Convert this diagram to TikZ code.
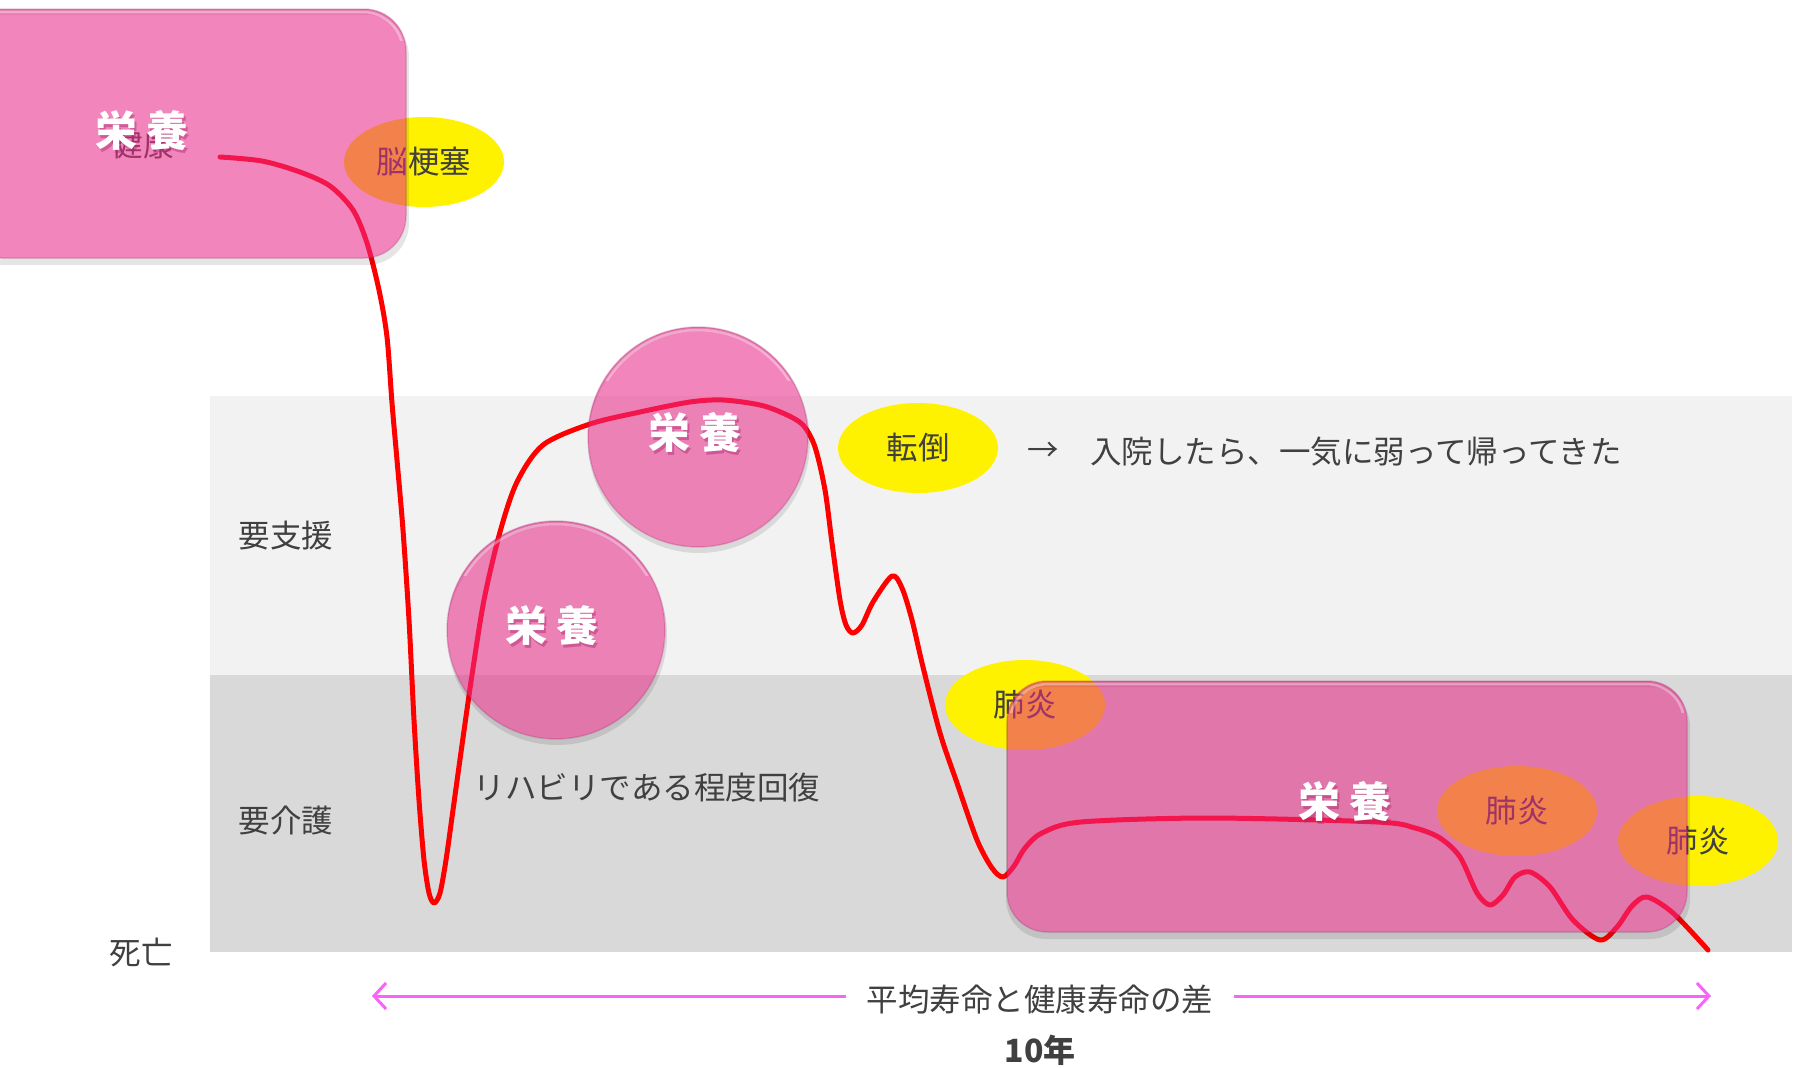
\documentclass[tikz,border=0pt]{standalone}
\usepackage{fontspec}
\setmainfont{Noto Sans CJK JP}
\usetikzlibrary{shapes.geometric,arrows.meta}
\definecolor{pk}{RGB}{233,41,136}
\definecolor{pkedge}{RGB}{170,40,110}
\definecolor{txt}{RGB}{64,64,64}
\definecolor{bandA}{RGB}{242,242,242}
\definecolor{bandB}{RGB}{217,217,217}
\definecolor{mag}{RGB}{248,100,248}
\newcommand{\mysz}{\fontsize{31.5}{36}\selectfont}
\newcommand{\eiyosz}{\fontsize{42}{48}\selectfont\bfseries}
\begin{document}
\begin{tikzpicture}[x=1pt,y=-1pt,
  lbl/.style={text=txt,font=\mysz,inner sep=0pt},
  yel/.style={ellipse,fill=yellow,minimum width=160pt,minimum height=90pt,inner sep=0pt,text=txt,font=\mysz},
  pinkfill/.style={fill=pk,fill opacity=0.56,draw=pkedge,draw opacity=0.25,line width=1.5pt},
  pshade/.style={fill=black,even odd rule},
  eiyo/.style={text=white,font=\eiyosz,inner sep=0pt},
  eiyoback/.style={text=pkedge,text opacity=0.45,font=\eiyosz,inner sep=0pt},
  curve/.style={red,line width=5pt,line cap=round,line join=round}
]
\useasboundingbox (0,0) rectangle (1799,1068);
\fill[white] (0,0) rectangle (1799,1068);
% bands
\fill[bandA] (210,396) rectangle (1792,675);
\fill[bandB] (210,675) rectangle (1792,952);
% labels
\node[lbl] (shien) at (286,536) {要支援};
\node[lbl] (kaigo) at (286,821) {要介護};
\node[lbl] (shibo) at (141,953) {死亡};
\node[lbl] (reha) at (647,788) {リハビリである程度回復};
\node[lbl] (arr) at (1043,452) {→};
\node[lbl,anchor=west] (nyuin) at (1090,452) {入院したら、一気に弱って帰ってきた};
% curve
\draw[curve] plot[smooth,tension=0.5] coordinates {
(220,157) (262,161) (300,172) (330,186) (353,210) (367,243) (379,290) (387,337)
(392,403) (397,460) (403,530) (409,620) (414,720) (419,800) (424,860) (429,893)
(434,903) (440,893) (446,860) (453,810) (462,745) (472,675) (484,600) (500,532)
(517,482) (543,445) (590,424) (640,412) (690,402) (723,400) (760,405) (785,414)
(803,425) (815,447) (825,490) (832,543) (840,600) (846,625) (853,633) (862,625)
(873,602) (892,576) (902,588) (912,620) (923,667) (940,733) (957,783) (977,840)
(992,868) (1003,877) (1014,866) (1025,848) (1042,833) (1081,822) (1209,818)
(1377,822) (1415,828) (1440,838) (1460,857) (1477,893) (1490,905) (1503,895)
(1515,877) (1530,872) (1550,887) (1573,920) (1600,940) (1617,927) (1632,906)
(1647,897) (1673,913) (1708,950)};
% yellow ellipses
\node[yel] (noukousoku) at (424,162) {脳梗塞};
\node[yel] (tentou) at (918,448) {転倒};
\node[yel] (haien1) at (1025,705) {肺炎};
\node[yel] (haien2) at (1517,811) {肺炎};
\node[yel] (haien3) at (1698,841) {肺炎};
% ghost text
\node[lbl] (kenko) at (143,145) {健康};
% pink shapes: shadows
\fill[pshade,opacity=0.10] [rounded corners=42pt] (-40,15) rectangle (409,265) (-40,9) rectangle (406,258);
\fill[pshade,opacity=0.10] (699,442) circle[radius=111pt] (698,437) circle[radius=110pt];
\fill[pshade,opacity=0.10] (557,635) circle[radius=110pt] (556,630) circle[radius=109pt];
\fill[pshade,opacity=0.10] [rounded corners=40pt] (1006,687) rectangle (1690,939) (1007,681) rectangle (1687,932);
% pink shapes
\draw[pinkfill,rounded corners=42pt] (-40,9) rectangle (406,258);
\draw[pinkfill] (698,437) circle[radius=110pt];
\draw[pinkfill] (556,630) circle[radius=109pt];
\draw[pinkfill,rounded corners=40pt] (1007,681) rectangle (1687,932);
% light top rims
\begin{scope}
\clip (-40,0) rectangle (420,40);
\draw[white,opacity=0.35,line width=2.5pt,rounded corners=40pt] (-40,12) rectangle (403,255);
\end{scope}
\begin{scope}
\clip (1000,670) rectangle (1700,712);
\draw[white,opacity=0.35,line width=2.5pt,rounded corners=38pt] (1010,684) rectangle (1684,929);
\end{scope}
\begin{scope}
\clip (580,320) rectangle (820,380);
\draw[white,opacity=0.35,line width=2.5pt] (698,437) circle[radius=107pt];
\end{scope}
\begin{scope}
\clip (440,515) rectangle (680,575);
\draw[white,opacity=0.35,line width=2.5pt] (556,630) circle[radius=106pt];
\end{scope}
% white texts
\node[eiyoback] at (144,133) {栄\hspace{9pt}養};
\node[eiyo] (eiyoA) at (142,130) {栄\hspace{9pt}養};
\node[eiyoback] at (697,435) {栄\hspace{9pt}養};
\node[eiyo] (eiyoB) at (695,432) {栄\hspace{9pt}養};
\node[eiyoback] at (554,628) {栄\hspace{9pt}養};
\node[eiyo] (eiyoC) at (552,625) {栄\hspace{9pt}養};
\node[eiyoback] at (1347,804) {栄\hspace{9pt}養};
\node[eiyo] (eiyoD) at (1345,801) {栄\hspace{9pt}養};
% bottom arrow
\coordinate (lend) at (372,996);
\coordinate (rend) at (1711,996);
\node[lbl,inner xsep=21pt] (sa) at (1040,1000) {平均寿命と健康寿命の差};
\draw[mag,line width=3pt,{Straight Barb[length=12pt,width=26pt]}-] (lend) -- (lend -| sa.west);
\draw[mag,line width=3pt,-{Straight Barb[length=12pt,width=26pt]}] (rend -| sa.east) -- (rend);
\node[text=txt,font=\fontsize{32}{36}\selectfont\bfseries,inner sep=0pt] (ten) at (1040,1050) {10年};
\end{tikzpicture}
\end{document}
